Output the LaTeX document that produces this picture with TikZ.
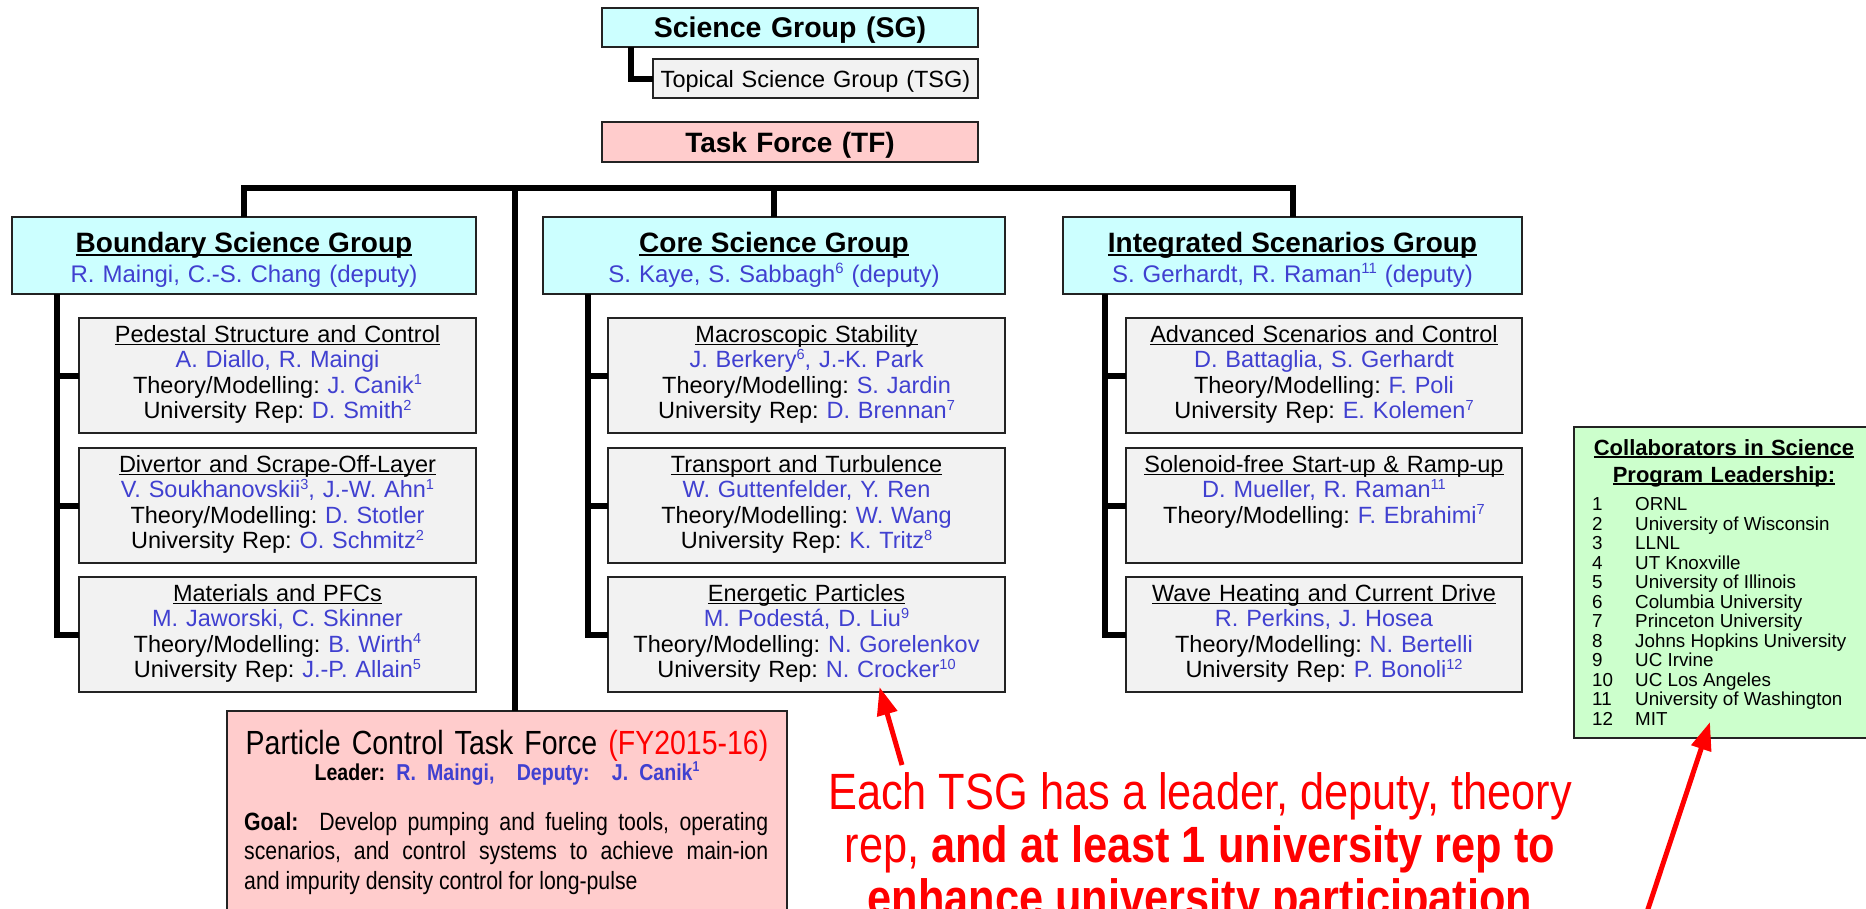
\documentclass[tikz,border=0pt]{standalone}
\usepackage{fontspec}
\setmainfont{Liberation Sans}
\newfontfamily\narrowfont[FakeStretch=0.85]{Liberation Sans}
\usepackage{graphicx}
\usetikzlibrary{arrows.meta}
\definecolor{cyanbox}{RGB}{204,255,255}
\definecolor{greybox}{RGB}{242,242,242}
\definecolor{pinkbox}{RGB}{255,204,204}
\definecolor{greenbox}{RGB}{204,255,204}
\definecolor{nameblue}{RGB}{64,64,208}
\definecolor{boxline}{RGB}{35,35,35}
\newsavebox\ulbox
\newcommand\ulx[1]{\leavevmode\sbox\ulbox{#1}\rlap{\rule[-0.13em]{\wd\ulbox}{0.065em}}\usebox\ulbox}
\newcommand\nm[1]{{\color{nameblue}#1}}
\newcommand\sps[1]{\raisebox{0.36em}{\scalebox{0.62}{#1}}}
\newcommand\mtitle[1]{{\fontsize{28}{30}\selectfont\bfseries\ulx{#1}}}
\newcommand\tm{Theory/Modelling:\ }
\begin{document}
\frenchspacing
\begin{tikzpicture}[x=1pt,y=-1pt,
  box/.style={draw=boxline, line width=2pt, inner xsep=0pt, inner ysep=0pt, outer sep=0pt, anchor=north west, align=center},
  mainbox/.style={box, fill=cyanbox, text height=35pt, text depth=42pt, font=\fontsize{24}{30}\selectfont},
  subbox/.style={box, fill=greybox, text width=397pt, text height=24pt, text depth=91pt, font=\fontsize{23.5}{25.5}\selectfont},
  conn/.style={line width=6pt},
  redarrow/.style={draw=red, line width=5pt, -{Triangle[length=28pt,width=20pt]}},
  redtext/.style={text=red, anchor=base, inner sep=0pt, font=\narrowfont\fontsize{51}{54}\selectfont}]
\useasboundingbox (0,0) rectangle (1866,908);
\clip (0,0) rectangle (1866,908);

% top legend boxes
\node[box, fill=cyanbox, text width=376pt, text height=29.7pt, text depth=9.3pt, font=\fontsize{28.5}{30}\selectfont\bfseries] (sg) at (602,8) {Science Group (SG)};
\node[box, fill=greybox, text width=325pt, text height=28pt, text depth=11pt, font=\fontsize{23.5}{26}\selectfont] (tsg) at (653,59) {Topical Science Group (TSG)};
\node[box, fill=pinkbox, text width=376pt, text height=30pt, text depth=10pt, font=\fontsize{28}{30}\selectfont\bfseries] (tf) at (602,122) {Task Force (TF)};
\draw[conn] ([xshift=29pt]sg.south west) |- (tsg.west);

% science groups
\node[mainbox, text width=464pt] (bsg) at (12,217) {\mtitle{Boundary Science Group}\\ \nm{R. Maingi, C.-S. Chang (deputy)}};
\node[mainbox, text width=462pt] (csg) at (543,217) {\mtitle{Core Science Group}\\ \nm{S. Kaye, S. Sabbagh\sps{6} (deputy)}};
\node[mainbox, text width=459pt] (isg) at (1063,217) {\mtitle{Integrated Scenarios Group}\\ \nm{S. Gerhardt, R. Raman\sps{11} (deputy)}};

% boundary TSGs
\node[subbox] (b1) at (79,318) {\ulx{Pedestal Structure and Control}\\ \nm{A. Diallo, R. Maingi}\\ \tm\nm{J. Canik\sps{1}}\\ University Rep: \nm{D. Smith\sps{2}}};
\node[subbox] (b2) at (79,448) {\ulx{Divertor and Scrape-Off-Layer}\\ \nm{V. Soukhanovskii\sps{3}, J.-W. Ahn\sps{1}}\\ \tm\nm{D. Stotler}\\ University Rep: \nm{O. Schmitz\sps{2}}};
\node[subbox] (b3) at (79,577) {\ulx{Materials and PFCs}\\ \nm{M. Jaworski, C. Skinner}\\ \tm\nm{B. Wirth\sps{4}}\\ University Rep: \nm{J.-P. Allain\sps{5}}};

% core TSGs
\node[subbox] (c1) at (608,318) {\ulx{Macroscopic Stability}\\ \nm{J. Berkery\sps{6}, J.-K. Park}\\ \tm\nm{S. Jardin}\\ University Rep: \nm{D. Brennan\sps{7}}};
\node[subbox] (c2) at (608,448) {\ulx{Transport and Turbulence}\\ \nm{W. Guttenfelder, Y. Ren}\\ \tm\nm{W. Wang}\\ University Rep: \nm{K. Tritz\sps{8}}};
\node[subbox] (c3) at (608,577) {\ulx{Energetic Particles}\\ \nm{M. Podest\'a, D. Liu\sps{9}}\\ \tm\nm{N. Gorelenkov}\\ University Rep: \nm{N. Crocker\sps{10}}};

% integrated TSGs
\node[subbox, text width=396pt] (i1) at (1126,318) {\ulx{Advanced Scenarios and Control}\\ \nm{D. Battaglia, S. Gerhardt}\\ \tm\nm{F. Poli}\\ University Rep: \nm{E. Kolemen\sps{7}}};
\node[subbox, text width=396pt] (i2) at (1126,448) {\ulx{Solenoid-free Start-up \& Ramp-up}\\ \nm{D. Mueller, R. Raman\sps{11}}\\ \tm\nm{F. Ebrahimi\sps{7}}\\ \mbox{}};
\node[subbox, text width=396pt] (i3) at (1126,577) {\ulx{Wave Heating and Current Drive}\\ \nm{R. Perkins, J. Hosea}\\ \tm\nm{N. Bertelli}\\ University Rep: \nm{P. Bonoli\sps{12}}};

% particle control task force
\node[box, fill=pinkbox, text width=560pt, text height=43pt, text depth=200pt, font=\narrowfont\fontsize{33.5}{24}\selectfont] (pctf) at (227,711) {Particle Control Task Force {\color{red}(FY2015-16)}\\ {\fontsize{23}{24}\selectfont\bfseries Leader: \nm{R. Maingi,\ \ Deputy:\ \ J. Canik\sps{1}}}};
\node[anchor=base west, inner sep=0pt, text width=524pt, align=justify, font=\narrowfont\fontsize{25}{29.5}\selectfont] (pcgoal) at (244,830) {\textbf{Goal:}\ \ Develop pumping and fueling tools, operating\linebreak scenarios, and control systems to achieve main-ion\linebreak and impurity density control for long-pulse};

% collaborators
\node[box, fill=greenbox, text width=300pt, text height=28pt, text depth=283pt, font=\fontsize{22}{27}\selectfont\bfseries] (collab) at (1574,427) {\ulx{Collaborators in Science}\\ \ulx{Program Leadership:}};
\node[anchor=base west, inner sep=0pt, font=\fontsize{18.8}{19.5}\selectfont] (collist) at (1592,510.5) {\begin{tabular}[t]{@{}p{43pt}@{}l@{}}
1 & ORNL\\ 2 & University of Wisconsin\\ 3 & LLNL\\ 4 & UT Knoxville\\
5 & University of Illinois\\ 6 & Columbia University\\ 7 & Princeton University\\
8 & Johns Hopkins University\\ 9 & UC Irvine\\ 10 & UC Los Angeles\\
11 & University of Washington\\ 12 & MIT\end{tabular}};

% connectors
\coordinate (bus) at (775,188);
\coordinate (tfv) at (515,188);
\draw[conn] (bsg.north) |- (bus) -| (isg.north);
\draw[conn] (csg.north) -- (csg.north |- bus);
\draw[conn] (tfv) -- (tfv |- pctf.north);

\coordinate (bsp) at ([xshift=45pt]bsg.south west);
\draw[conn] (bsp) |- (b3.west);
\draw[conn] (b1.west -| bsp) -- (b1.west);
\draw[conn] (b2.west -| bsp) -- (b2.west);

\coordinate (csp) at ([xshift=45pt]csg.south west);
\draw[conn] (csp) |- (c3.west);
\draw[conn] (c1.west -| csp) -- (c1.west);
\draw[conn] (c2.west -| csp) -- (c2.west);

\coordinate (isp) at ([xshift=42pt]isg.south west);
\draw[conn] (isp) |- (i3.west);
\draw[conn] (i1.west -| isp) -- (i1.west);
\draw[conn] (i2.west -| isp) -- (i2.west);

% annotation
\node[redtext] (r1) at (1200,809) {Each TSG has a leader, deputy, theory};
\node[redtext] (r2) at (1200,862) {rep, \textbf{and at least 1 university rep to}};
\node[redtext] (r3) at (1200,915) {\textbf{enhance university participation}};
\coordinate (a1) at (902,765);
\coordinate (a2) at (1646,915);
\draw[redarrow] (a1) -- ([xshift=73pt,yshift=5pt]c3.south);
\draw[redarrow] (a2) -- ([xshift=-14pt,yshift=16pt]collab.south);
\end{tikzpicture}
\end{document}
